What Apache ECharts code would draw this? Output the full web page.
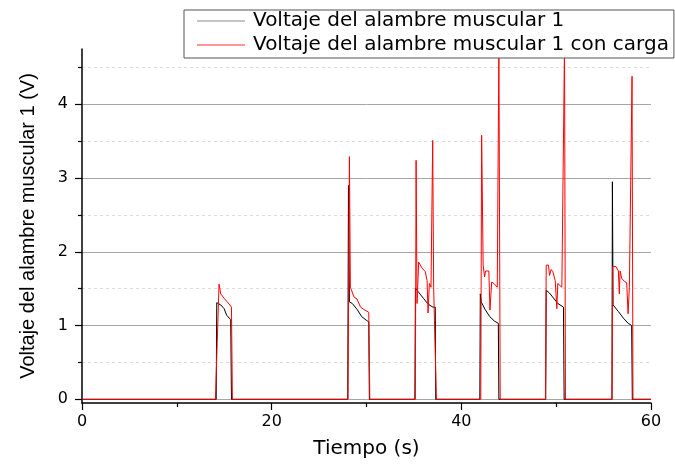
<!DOCTYPE html>
<html>
<head>
<meta charset="utf-8">
<script src="https://cdn.jsdelivr.net/npm/echarts@6/dist/echarts.min.js"></script>
<style>html,body{margin:0;padding:0;background:#fff;}#c{width:675px;height:465px;}</style>
</head>
<body>
<div id="c"></div>
<script>
var seriesNames = ['Voltaje del alambre muscular 1', 'Voltaje del alambre muscular 1 con carga'];
var xTitle = 'Tiempo (s)';
var yTitle = 'Voltaje del alambre muscular 1 (V)';
var yMajorTicks = [0, 1, 2, 3, 4];
var yMinorTicks = [0.5, 1.5, 2.5, 3.5, 4.5];

var blackT = [0, 14.15, 14.21, 14.63, 14.98, 15.26, 15.68, 15.76,
  28.02, 28.1, 28.2, 28.5, 29.0, 29.5, 30.0, 30.24, 30.3,
  35.1, 35.16, 35.5, 36.0, 36.5, 37.0, 37.25, 37.3,
  41.95, 42.0, 42.1, 42.5, 43.0, 43.5, 43.9, 43.96,
  48.9, 48.95, 49.3, 49.8, 50.17, 50.77, 50.84,
  55.88, 55.93, 56.0, 56.56, 57.09, 57.6, 57.96, 58.03, 60];
var blackV = [0, 0, 1.31, 1.28, 1.23, 1.14, 1.08, 0,
  0, 2.90, 1.32, 1.30, 1.22, 1.12, 1.07, 1.05, 0,
  0, 1.51, 1.45, 1.37, 1.29, 1.25, 1.25, 0,
  0, 1.43, 1.32, 1.22, 1.12, 1.06, 1.03, 0,
  0, 1.48, 1.44, 1.36, 1.30, 1.25, 0,
  0, 2.95, 1.28, 1.19, 1.10, 1.03, 1.00, 0, 0];

var redT = [0, 14.07, 14.45, 14.63, 14.98, 15.33, 15.76, 15.86,
  28.05, 28.2, 28.3, 28.45, 28.66, 29.0, 29.37, 29.7, 30.24, 30.35,
  35.15, 35.23, 35.33, 35.5, 35.86, 36.2, 36.39, 36.49, 36.63, 36.8, 36.9, 36.98, 37.08, 37.2, 37.37,
  42.05, 42.14, 42.3, 42.45, 42.56, 42.9, 43.02, 43.2, 43.44, 43.79, 43.9, 43.96, 44.1,
  48.87, 48.95, 49.19, 49.3, 49.47, 49.65, 49.9, 50.07, 50.17, 50.6, 50.8, 50.88, 50.98,
  55.9, 55.96, 56.3, 56.56, 56.66, 56.74, 56.91, 57.19, 57.44, 57.58, 57.72, 57.9, 58.0, 58.1, 60];
var redV = [0, 0, 1.56, 1.43, 1.37, 1.32, 1.25, 0,
  0, 3.29, 1.52, 1.47, 1.39, 1.36, 1.25, 1.22, 1.18, 0,
  0, 3.24, 1.30, 1.86, 1.78, 1.73, 1.61, 1.17, 1.57, 1.52, 1.52, 3.51, 1.52, 1.50, 0,
  0, 3.58, 1.82, 1.66, 1.74, 1.74, 1.21, 1.59, 1.57, 1.52, 1.52, 4.8, 0,
  0, 1.82, 1.82, 1.68, 1.76, 1.73, 1.61, 1.23, 1.57, 1.52, 1.50, 4.8, 0,
  0, 1.80, 1.80, 1.74, 1.43, 1.74, 1.64, 1.60, 1.58, 1.16, 1.52, 1.52, 4.38, 0, 0];

function pairs(t, v) { return t.map(function (x, i) { return [x, v[i]]; }); }

var FONT = '"Liberation Sans", Arial, sans-serif';
var WIDE = '"DejaVu Sans", "Liberation Sans", sans-serif';
var chart = echarts.init(document.getElementById('c'), null, {renderer: 'canvas'});
chart.setOption({
  animation: false,
  backgroundColor: '#fff',
  textStyle: {fontFamily: WIDE},
  grid: {left: 82, right: 24, top: 49, bottom: 62, containLabel: false},
  legend: {
    orient: 'vertical', left: 184, top: 10,
    padding: [0, 5, 2, 13], itemGap: 2,
    itemWidth: 48, itemHeight: 1.2, icon: 'rect',
    backgroundColor: '#fff', borderColor: '#555', borderWidth: 1,
    textStyle: {fontFamily: WIDE, fontSize: 20, color: '#000', lineHeight: 22, padding: [0, 0, 0, 3]},
    data: [
      {name: seriesNames[0], itemStyle: {color: '#8c8c8c'}},
      {name: seriesNames[1], itemStyle: {color: '#ff3030'}}
    ]
  },
  xAxis: {
    type: 'value', min: 0, max: 60, interval: 20,
    name: xTitle, nameLocation: 'middle', nameGap: 36,
    nameTextStyle: {fontFamily: WIDE, fontSize: 20, color: '#000'},
    axisLine: {onZero: false, lineStyle: {color: '#000', width: 1.5}},
    axisTick: {inside: false, length: 7, lineStyle: {color: '#000', width: 1.2}},
    minorTick: {show: true, splitNumber: 2, length: 4, lineStyle: {color: '#000', width: 1.2}},
    axisLabel: {fontFamily: WIDE, fontSize: 16, color: '#000', margin: 11},
    splitLine: {show: false}
  },
  yAxis: [{
    type: 'value', min: -0.05, max: 4.75,
    name: yTitle, nameLocation: 'middle', nameGap: 44,
    nameTextStyle: {fontFamily: FONT, fontSize: 20, color: '#000'},
    axisLine: {onZero: false, lineStyle: {color: '#000', width: 1.5}},
    axisTick: {inside: false, length: 7, customValues: yMajorTicks, lineStyle: {color: '#000', width: 1.2}},
    axisLabel: {fontFamily: WIDE, fontSize: 16, color: '#000', margin: 14, customValues: yMajorTicks},
    splitLine: {show: true, lineStyle: {color: '#a6a6a6', width: 1}}
  }, {
    type: 'value', min: -0.05, max: 4.75, position: 'left',
    axisLine: {show: false},
    axisTick: {inside: false, length: 4, customValues: yMinorTicks, lineStyle: {color: '#000', width: 1.2}},
    axisLabel: {show: false},
    splitLine: {show: true, lineStyle: {color: '#dcdcdc', width: 1, type: [3, 3]}}
  }],
  series: [{
    name: seriesNames[0], type: 'line', yAxisIndex: 0,
    data: pairs(blackT, blackV), symbol: 'none', clip: true,
    lineStyle: {color: '#000', width: 1}, itemStyle: {color: '#000'}, z: 2
  }, {
    name: seriesNames[1], type: 'line', yAxisIndex: 0,
    data: pairs(redT, redV), symbol: 'none', clip: true,
    lineStyle: {color: '#ff0000', width: 1}, itemStyle: {color: '#ff0000'}, z: 3
  }]
});
</script>
</body>
</html>
